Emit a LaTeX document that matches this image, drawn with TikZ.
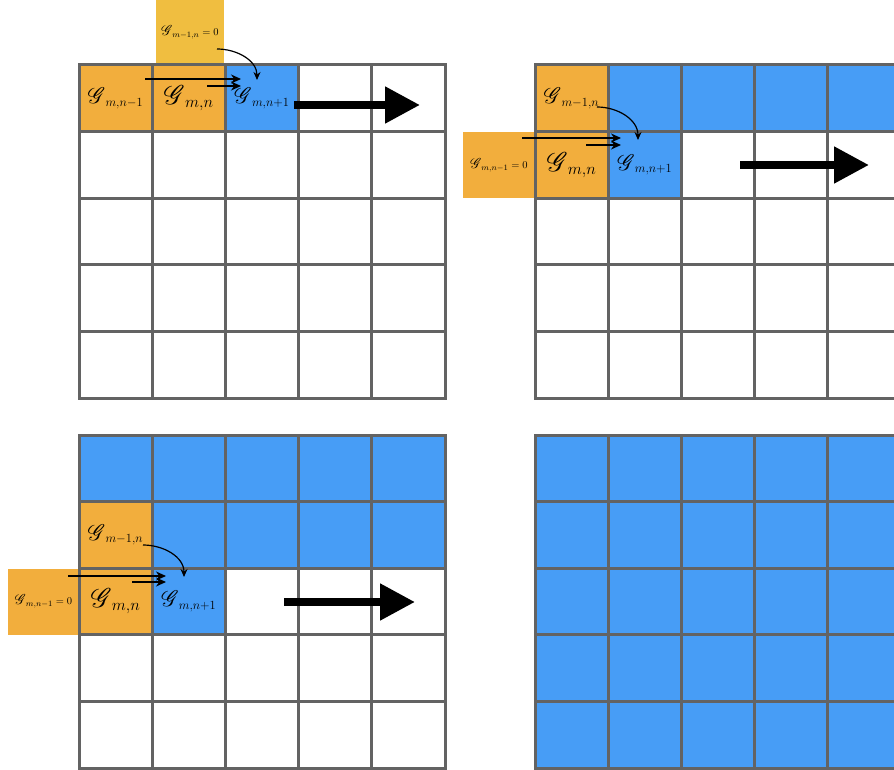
\documentclass[tikz,border=0pt]{standalone}
\usepackage{fix-cm}
\usepackage{amsmath,mathrsfs}
\usetikzlibrary{arrows.meta}
\definecolor{CellOrange}{HTML}{F2AE3D}
\definecolor{CellYellow}{HTML}{F0BE40}
\definecolor{CellBlue}{HTML}{479DF6}
\definecolor{GridGray}{HTML}{636363}
\def\defaultscriptratio{.78}
\newcommand{\Gs}{\mathord{\scalebox{1.3}{$\mathscr{G}$}}}
\newcommand{\panelgrid}[2]{%
  \foreach \k in {0,...,5}{
    \draw[gridline] (#1+\k*73.2,#2) -- (#1+\k*73.2,#2+333);
    \draw[gridline] (#1,#2+\k*66.6) -- (#1+366,#2+\k*66.6);
  }}

\begin{document}
\begin{tikzpicture}[x=1pt,y=-1pt,>=Stealth]
\tikzset{
  gcell/.style={minimum width=73.2pt,minimum height=66.6pt,inner sep=0pt,font=\fontsize{16}{18}\selectfont},
  bigcell/.style={gcell,font=\fontsize{21}{23}\selectfont},
  zerobox/.style={minimum height=66pt,inner sep=0pt,font=\fontsize{10.5}{12}\selectfont},
  gridline/.style={draw=GridGray,line width=3pt,line cap=rect},
  feed/.style={line width=1.2pt,-{Stealth[length=10pt,width=9pt]}},
  curvearrow/.style={line width=1.2pt,-{Stealth[length=8pt,width=7pt]}},
  bigarrow/.style={line width=8pt,-{Triangle[length=35pt,width=35pt]}}
}
\useasboundingbox (0,0) rectangle (894,770);

% panel A: first row
\node[zerobox,fill=CellYellow,minimum width=68pt] (a-zero) at (190,32.5) {$\Gs_{m-1,n}=0$};
\node[gcell,fill=CellOrange] (a-prev) at (115.6,98.3) {$\Gs_{m,n-1}$};
\node[bigcell,fill=CellOrange] (a-cur) at (188.8,98.3) {$\Gs_{m,n}$};
\node[gcell,fill=CellBlue] (a-next) at (262,98.3) {$\Gs_{m,n+1}$};
\panelgrid{79}{65}
\coordinate (a-s1) at (145,79);
\coordinate (a-t1) at (241,79);
\coordinate (a-s2) at (207,86);
\coordinate (a-t2) at (241,86);
\coordinate (a-c0) at (217,49);
\coordinate (a-c1) at (257,80);
\coordinate (a-b0) at (294,105);
\coordinate (a-b1) at (420,105);
\draw[feed] (a-s1) -- (a-t1);
\draw[feed] (a-s2) -- (a-t2);
\draw[curvearrow] (a-c0) to[out=0,in=90] (a-c1);
\draw[bigarrow] (a-b0) -- (a-b1);

% panel B: second row
\fill[CellBlue] (608.2,65) rectangle (901,131.6);
\node[gcell,fill=CellOrange] (b-up) at (571.6,98.3) {$\Gs_{m-1,n}$};
\node[zerobox,fill=CellOrange,minimum width=72pt] (b-zero) at (499,165) {$\Gs_{m,n-1}=0$};
\node[bigcell,fill=CellOrange] (b-cur) at (571.6,164.9) {$\Gs_{m,n}$};
\node[gcell,fill=CellBlue] (b-next) at (644.8,164.9) {$\Gs_{m,n+1}$};
\panelgrid{535}{65}
\coordinate (b-s1) at (522,138);
\coordinate (b-t1) at (621,138);
\coordinate (b-s2) at (586,145);
\coordinate (b-t2) at (621,145);
\coordinate (b-c0) at (597,107);
\coordinate (b-c1) at (638,140);
\coordinate (b-b0) at (740,165);
\coordinate (b-b1) at (869,165);
\draw[feed] (b-s1) -- (b-t1);
\draw[feed] (b-s2) -- (b-t2);
\draw[curvearrow] (b-c0) to[out=0,in=90] (b-c1);
\draw[bigarrow] (b-b0) -- (b-b1);

% panel C: third row
\fill[CellBlue] (79,435) rectangle (445,501.6);
\fill[CellBlue] (152.2,501.6) rectangle (445,568.2);
\node[gcell,fill=CellOrange] (c-up) at (115.6,534.9) {$\Gs_{m-1,n}$};
\node[zerobox,fill=CellOrange,minimum width=71pt] (c-zero) at (43.5,601.5) {$\Gs_{m,n-1}=0$};
\node[bigcell,fill=CellOrange] (c-cur) at (115.6,601.5) {$\Gs_{m,n}$};
\node[gcell,fill=CellBlue] (c-next) at (188.8,601.5) {$\Gs_{m,n+1}$};
\panelgrid{79}{435}
\coordinate (c-s1) at (68,576);
\coordinate (c-t1) at (166,576);
\coordinate (c-s2) at (132,582);
\coordinate (c-t2) at (166,582);
\coordinate (c-c0) at (143,545);
\coordinate (c-c1) at (184,577);
\coordinate (c-b0) at (284,602);
\coordinate (c-b1) at (415,602);
\draw[feed] (c-s1) -- (c-t1);
\draw[feed] (c-s2) -- (c-t2);
\draw[curvearrow] (c-c0) to[out=0,in=90] (c-c1);
\draw[bigarrow] (c-b0) -- (c-b1);

% panel D: all done
\fill[CellBlue] (535,435) rectangle (901,768);
\panelgrid{535}{435}
\end{tikzpicture}
\end{document}
